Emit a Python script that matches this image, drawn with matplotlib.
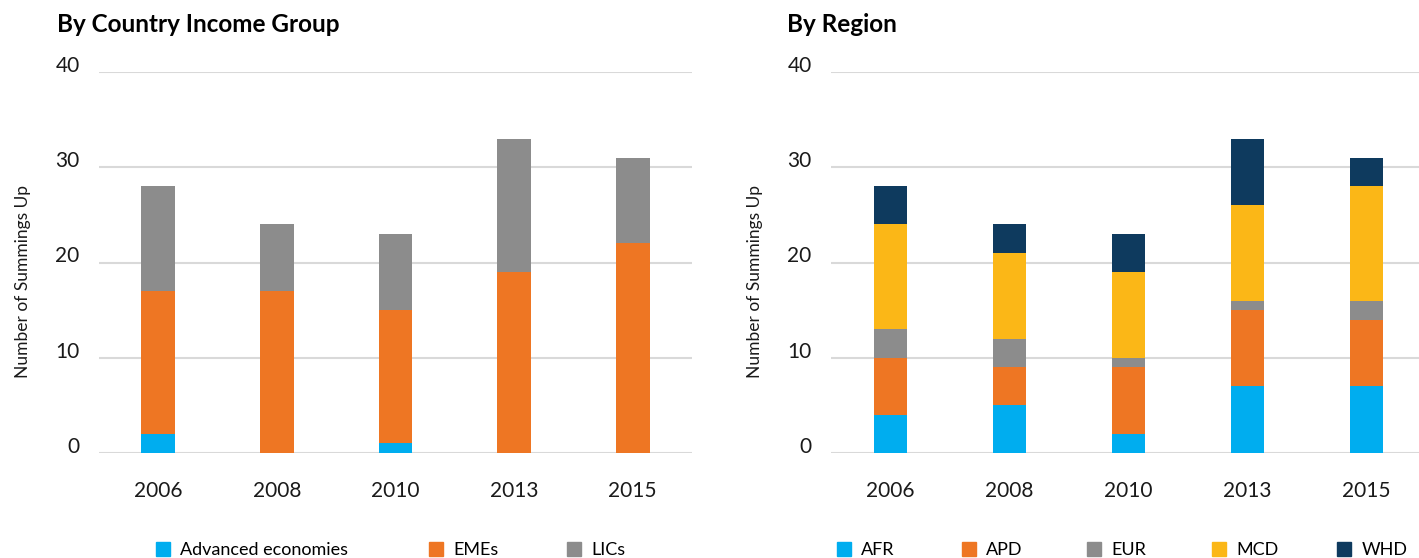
import numpy as np
import matplotlib.pyplot as plt
from matplotlib.patches import Patch

years = ['2006', '2008', '2010', '2013', '2015']

# by country income group
advanced = [2, 0, 1, 0, 0]
emes = [15, 17, 14, 19, 22]
lics = [11, 7, 8, 14, 9]

# by region
afr = [4, 5, 2, 7, 7]
apd = [6, 4, 7, 8, 7]
eur = [3, 3, 1, 1, 2]
mcd = [11, 9, 9, 10, 12]
whd = [4, 3, 4, 7, 3]

income_labels = ['Advanced economies', 'EMEs', 'LICs']
region_labels = ['AFR', 'APD', 'EUR', 'MCD', 'WHD']

c_blue = '#00ADEF'
c_orange = '#EE7623'
c_gray = '#8C8C8C'
c_yellow = '#FBB717'
c_navy = '#0E3A5E'

plt.rcParams['font.family'] = ['Lato', 'DejaVu Sans']

fig = plt.figure(figsize=(14.19, 5.58), dpi=100)
W, H = 1419, 558

ax1 = fig.add_axes([99 / W, (H - 453) / H, 593 / W, 381 / H])
ax2 = fig.add_axes([831 / W, (H - 453) / H, 588 / W, 381 / H])


def stack(ax, series, colors):
    x = np.arange(len(years))
    bottom = np.zeros(len(years))
    for vals, col in zip(series, colors):
        ax.bar(x, vals, width=0.285, bottom=bottom, color=col, zorder=3)
        bottom += np.array(vals)


def style(ax, right_cut=0.0):
    ax.set_ylim(0, 40)
    ax.set_xlim(-0.5, 4.5 - right_cut)
    ax.set_yticks([0, 10, 20, 30, 40])
    ax.set_xticks(range(len(years)))
    ax.set_xticklabels(years)
    ax.grid(axis='y', color='#D9D9D9', linewidth=1.5, zorder=0)
    for s in ax.spines.values():
        s.set_visible(False)
    ax.tick_params(axis='both', length=0, labelsize=15, labelcolor='#1a1a1a')
    ax.tick_params(axis='y', pad=14)
    ax.tick_params(axis='x', pad=20)
    for lab in ax.get_yticklabels():
        lab.set_verticalalignment('baseline')
    ax.set_ylabel('Number of Summings Up', fontsize=12.5, color='#1a1a1a')
    ax.yaxis.set_label_coords(-0.115, 0.45)


stack(ax1, [advanced, emes, lics], [c_blue, c_orange, c_gray])
stack(ax2, [afr, apd, eur, mcd, whd], [c_blue, c_orange, c_gray, c_yellow, c_navy])
style(ax1)
style(ax2, right_cut=(595 - 588) / 119)

fig.text(57 / W, 1 - 25 / H, 'By Country Income Group', fontsize=17.5,
         fontweight='bold', va='center', ha='left')
fig.text(787 / W, 1 - 25 / H, 'By Region', fontsize=17.5,
         fontweight='bold', va='center', ha='left')

leg_kw = dict(loc='center left', frameon=False, handlelength=0.8,
              handleheight=0.8, handletextpad=0.55, borderpad=0,
              borderaxespad=0, prop={'size': 13})

# one legend entry per call so each sits where the reference has it
for lab, col, px in zip(income_labels, [c_blue, c_orange, c_gray], [156, 429, 567]):
    fig.legend([Patch(color=col)], [lab], bbox_to_anchor=(px / W, 1 - 550 / H), **leg_kw)
for lab, col, px in zip(region_labels, [c_blue, c_orange, c_gray, c_yellow, c_navy],
                        [837, 962, 1087, 1212, 1337]):
    fig.legend([Patch(color=col)], [lab], bbox_to_anchor=(px / W, 1 - 550 / H), **leg_kw)

fig.savefig('out.png', dpi=100)
plt.close()
